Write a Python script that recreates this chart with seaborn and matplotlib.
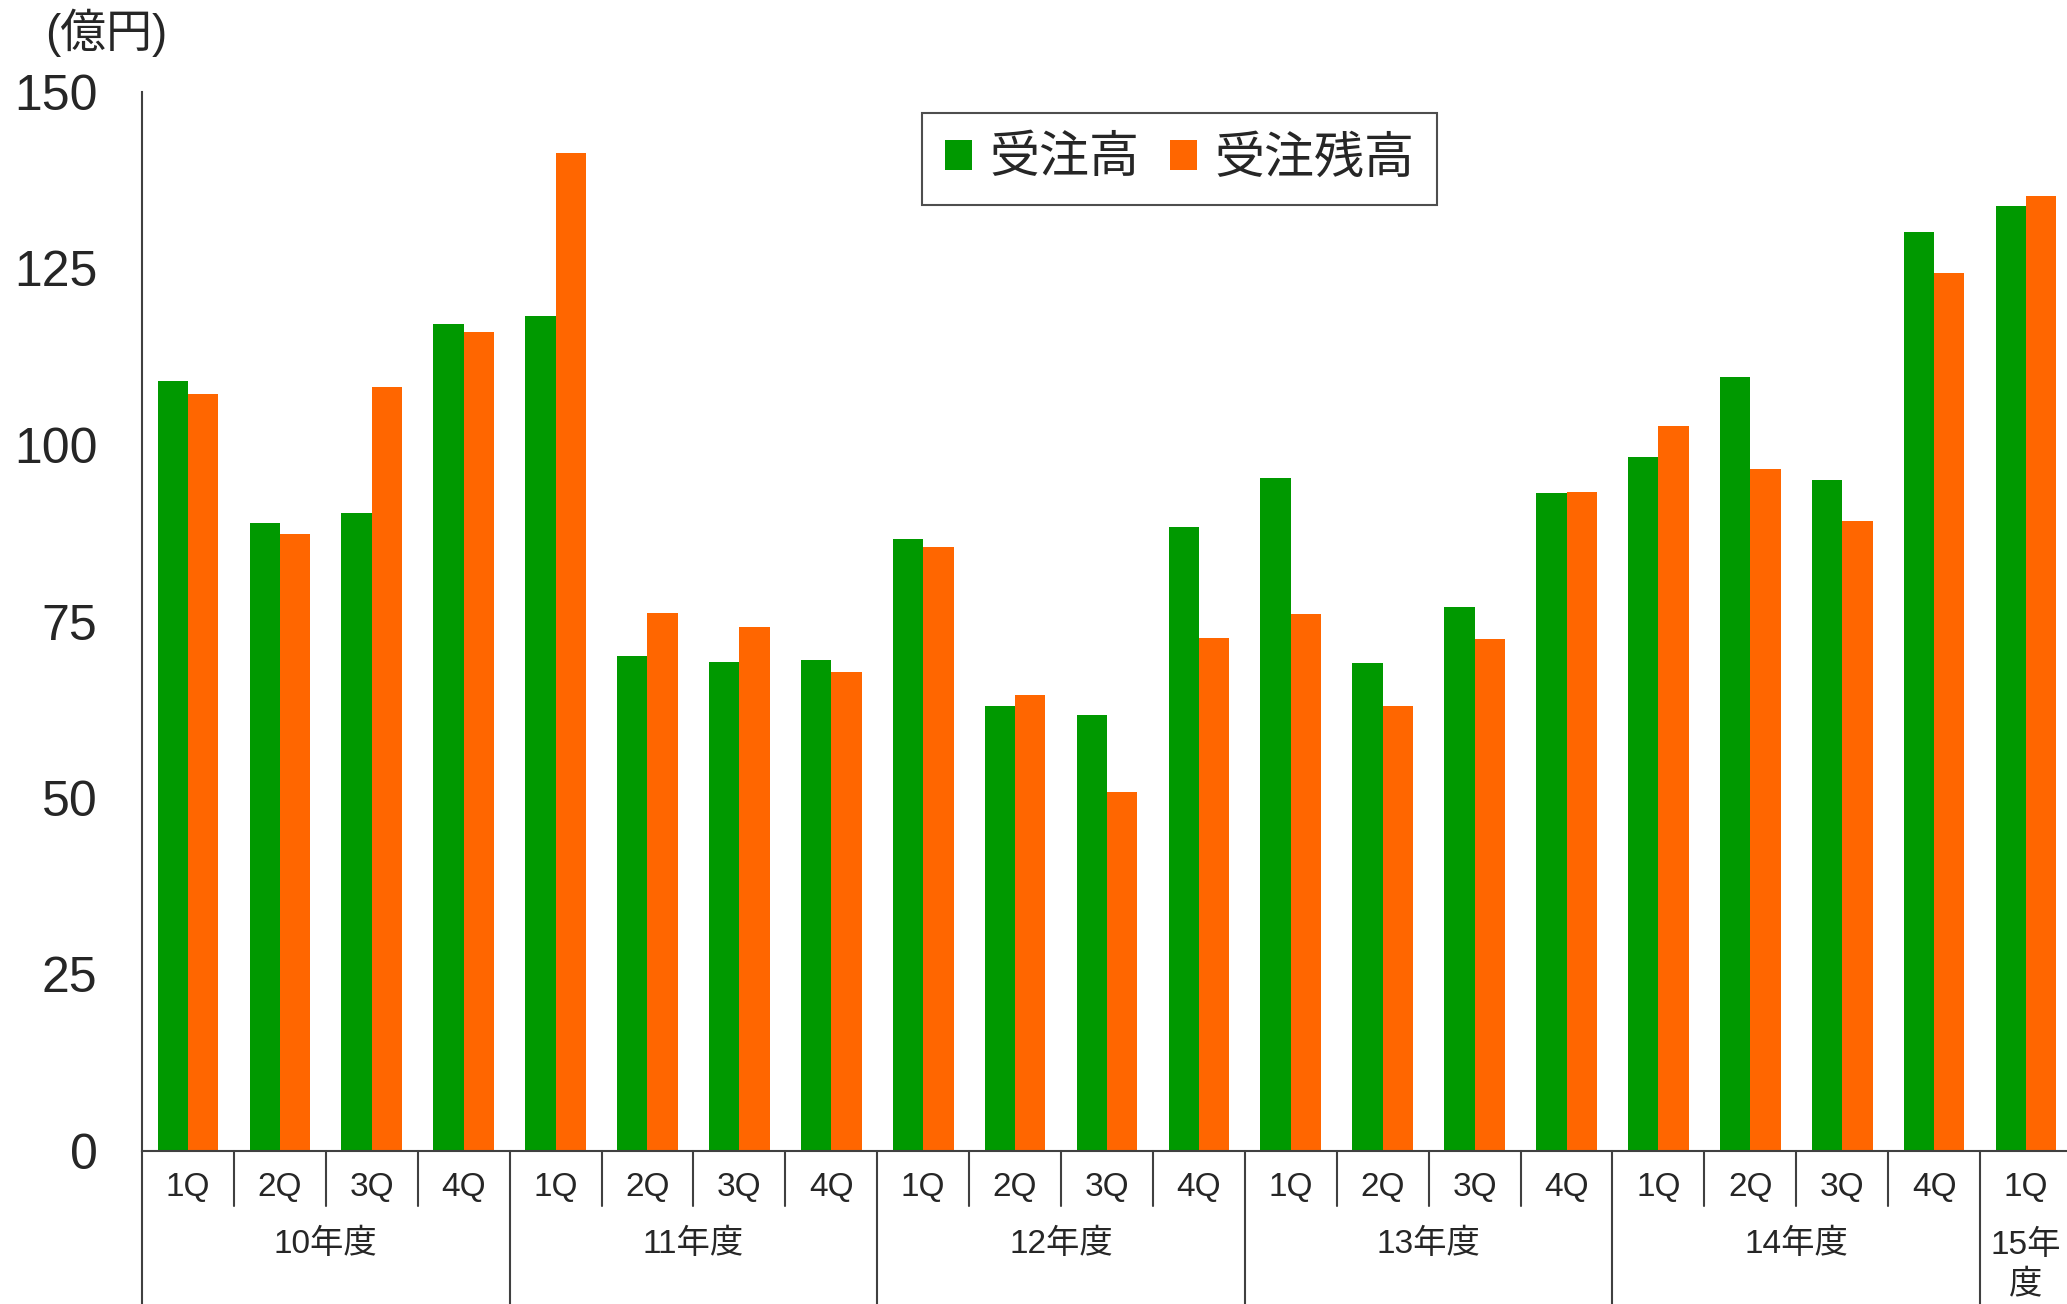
import matplotlib
matplotlib.use("Agg")
import matplotlib.pyplot as plt
import matplotlib.transforms as mtransforms
import seaborn as sns
import pandas as pd

# ---- data ----
years = ["10年度", "11年度", "12年度", "13年度", "14年度", "15年\n度"]
quarters_per_year = [4, 4, 4, 4, 4, 1]
quarter_labels = ["1Q", "2Q", "3Q", "4Q"]
orders = [109.1, 88.9, 90.4, 117.1,
          118.3, 70.1, 69.3, 69.5,
          86.7, 63.0, 61.8, 88.4,
          95.3, 69.1, 77.0, 93.2,
          98.3, 109.7, 95.1, 130.2,
          133.8]
backlog = [107.2, 87.4, 108.2, 116.0,
           141.4, 76.2, 74.2, 67.8,
           85.6, 64.6, 50.8, 72.7,
           76.0, 63.0, 72.5, 93.4,
           102.7, 96.6, 89.3, 124.4,
           135.3]
series_names = ["受注高", "受注残高"]
colors = ["#009900", "#FF6600"]
y_ticks = [0, 25, 50, 75, 100, 125, 150]
unit_label = "(億円)"

# ---- build tidy table ----
periods, qlabels = [], []
for y, n in zip(years, quarters_per_year):
    for q in quarter_labels[:n]:
        periods.append(f"{y}-{q}")
        qlabels.append(q)
df = pd.DataFrame({
    "period": periods * 2,
    "value": orders + backlog,
    "series": [series_names[0]] * len(periods) + [series_names[1]] * len(periods),
})

sns.set_style("white")
plt.rcParams["font.family"] = ["Liberation Sans", "Noto Sans CJK JP", "DejaVu Sans"]

W, H = 2067, 1304
fig = plt.figure(figsize=(W / 100, H / 100), dpi=100)
left_px, right_px, top_px, base_px = 142, 2072, 92, 1151
ax = fig.add_axes([left_px / W, (H - base_px) / H,
                   (right_px - left_px) / W, (base_px - top_px) / H])

sns.barplot(data=df, x="period", y="value", hue="series", order=periods,
            hue_order=series_names, palette=colors, width=0.66, gap=0,
            saturation=1, errorbar=None, ax=ax, linewidth=0)

ax.set_xlim(-0.5, len(periods) - 0.5)
ax.set_ylim(0, 150)
ax.set_yticks(y_ticks)
ax.set_yticklabels([str(t) for t in y_ticks], fontsize=36)
ax.tick_params(axis="y", direction="in", length=11, width=1.5, color="#404040", pad=32)
ax.set_xticks([])
ax.set_xlabel("")
ax.set_ylabel("")
for s in ["top", "right"]:
    ax.spines[s].set_visible(False)
for s in ["left", "bottom"]:
    ax.spines[s].set_color("#404040")
    ax.spines[s].set_linewidth(1.5)

# ---- grouped category axis ----
trans = mtransforms.blended_transform_factory(ax.transData, ax.transAxes)
ax_h = base_px - top_px
q_y = -(1188 - base_px) / ax_h
y_y = -(1244 - base_px) / ax_h
q_sep = -(1206 - base_px) / ax_h
y_sep = -(H - base_px) / ax_h

for i, q in enumerate(qlabels):
    ax.text(i, q_y, q, transform=trans, ha="center", va="center", fontsize=24)

idx = 0
for y, n in zip(years, quarters_per_year):
    start, end = idx - 0.5, idx + n - 0.5
    ax.plot([start, start], [0, y_sep], transform=trans, color="#404040",
            lw=1.5, clip_on=False)
    for k in range(1, n):
        ax.plot([start + k, start + k], [0, q_sep], transform=trans,
                color="#404040", lw=1.5, clip_on=False)
    if "\n" in y:
        ax.text((start + end) / 2, -(1230 - base_px) / ax_h, y, transform=trans,
                ha="center", va="top", fontsize=24, linespacing=1.35)
    else:
        ax.text((start + end) / 2, y_y, y, transform=trans, ha="center",
                va="center", fontsize=24)
    idx += n

fig.text(45 / W, 1 - 33 / H, unit_label, ha="left", va="center", fontsize=33)

# ---- legend ----
handles, labels = ax.get_legend_handles_labels()
leg = ax.legend(handles, labels, loc="center",
                bbox_to_anchor=((926 + 1433) / 2 / W, 1 - 159 / H),
                bbox_transform=fig.transFigure, ncol=2, fontsize=36,
                frameon=True, fancybox=False, edgecolor="#222222",
                handlelength=0.55, handleheight=0.55, handletextpad=0.35,
                columnspacing=0.6, borderpad=0.45)
leg.get_frame().set_linewidth(1.5)

fig.savefig("out.png", dpi=100)
